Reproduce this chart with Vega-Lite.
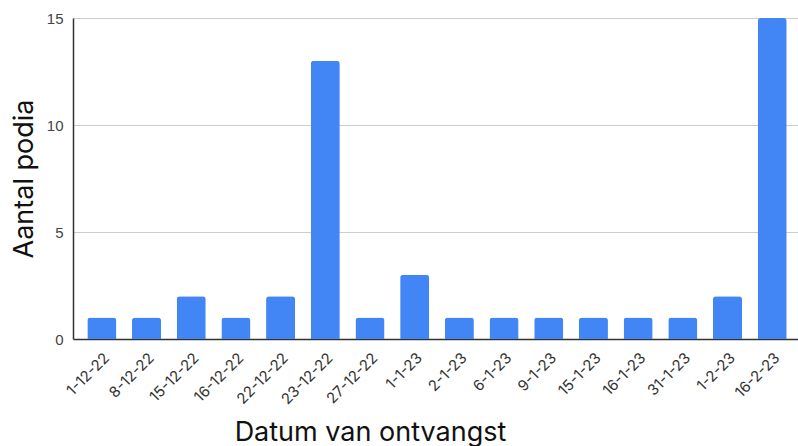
{
  "$schema": "https://vega.github.io/schema/vega-lite/v6.json",
  "autosize": "none",
  "width": 728,
  "height": 321,
  "padding": {"left": 73, "top": 18, "right": 0, "bottom": 107},
  "background": "white",
  "data": {"values": [
    {"datum": "1-12-22", "aantal": 1},
    {"datum": "8-12-22", "aantal": 1},
    {"datum": "15-12-22", "aantal": 2},
    {"datum": "16-12-22", "aantal": 1},
    {"datum": "22-12-22", "aantal": 2},
    {"datum": "23-12-22", "aantal": 13},
    {"datum": "27-12-22", "aantal": 1},
    {"datum": "1-1-23", "aantal": 3},
    {"datum": "2-1-23", "aantal": 1},
    {"datum": "6-1-23", "aantal": 1},
    {"datum": "9-1-23", "aantal": 1},
    {"datum": "15-1-23", "aantal": 1},
    {"datum": "16-1-23", "aantal": 1},
    {"datum": "31-1-23", "aantal": 1},
    {"datum": "1-2-23", "aantal": 2},
    {"datum": "16-2-23", "aantal": 15}
  ]},
  "config": {"view": {"stroke": null}},
  "mark": {"type": "bar", "color": "#4285F4", "cornerRadiusTopLeft": 3, "cornerRadiusTopRight": 3},
  "encoding": {
    "x": {
      "field": "datum", "type": "nominal", "sort": null,
      "scale": {"paddingInner": 0.35, "paddingOuter": 0.32},
      "axis": {
        "title": "Datum van ontvangst",
        "titleFont": "Inter", "titleFontSize": 27, "titleFontWeight": "normal", "titleColor": "#111",
        "titleX": 297, "titleY": 101, "titleAlign": "center", "titleBaseline": "alphabetic",
        "labelAngle": -45, "labelFont": "Inter", "labelFontSize": 15, "labelColor": "#333",
        "labelPadding": 11,
        "ticks": false, "domainColor": "#333", "domainWidth": 1.5
      }
    },
    "y": {
      "field": "aantal", "type": "quantitative",
      "scale": {"domain": [0, 15]},
      "axis": {
        "title": "Aantal podia",
        "titleFont": "Inter", "titleFontSize": 27, "titleFontWeight": "normal", "titleColor": "#111",
        "titlePadding": 8,
        "values": [0, 5, 10, 15],
        "labelFont": "Liberation Sans", "labelFontSize": 15, "labelColor": "#444",
        "labelPadding": 10,
        "ticks": false, "domainColor": "#333", "domainWidth": 1.5,
        "gridColor": "#cccccc"
      }
    }
  }
}
